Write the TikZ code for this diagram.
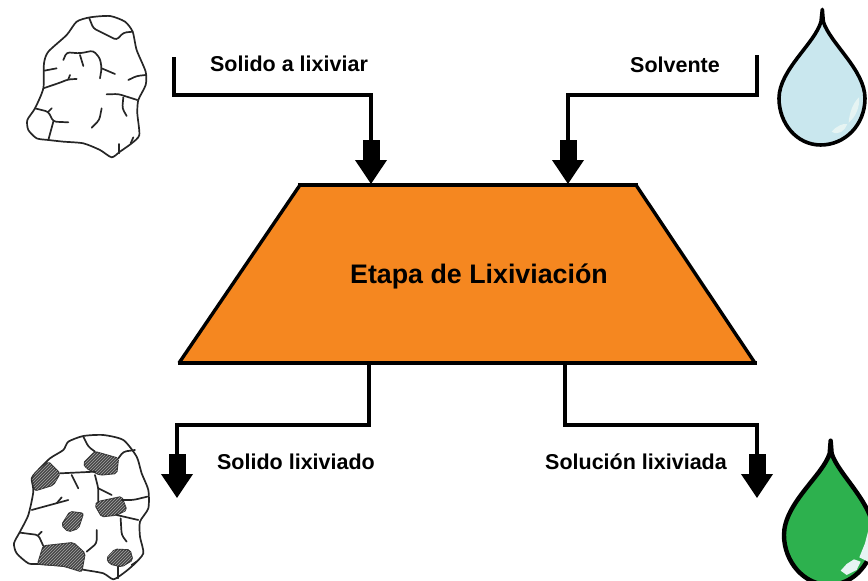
\documentclass[tikz,border=0pt]{standalone}
\usepackage{fontspec}
\setmainfont{Liberation Sans}
\usetikzlibrary{arrows.meta,patterns,calc}
\definecolor{stageorange}{HTML}{F58720}
\definecolor{waterblue}{HTML}{C9E7EE}
\definecolor{leachgreen}{HTML}{2DB14E}
\definecolor{glint}{HTML}{E6F4F3}
\tikzset{
  flow/.style={line width=4pt,-{Rectangle[length=20pt,width=17pt,sep=0pt]Triangle[length=24pt,width=31pt,sep=0pt]}},
  rockline/.style={line width=1.7pt,black!85,line cap=round,line join=round},
  crack/.style={rockline,rounded corners=3pt},
  ore/.style={fill=black!72,draw=black!80,line width=1.4pt,rounded corners=2pt,
    postaction={pattern=north east lines,pattern color=black!35}},
  droplet/.style={draw=black,line width=3.6pt,line join=round},
  shine/.style={fill=glint,draw=none},
  flowlabel/.style={font=\bfseries\fontsize{21.5}{24}\selectfont,inner sep=0pt,scale=1},
  stagelabel/.style={font=\bfseries\fontsize{26.8}{30}\selectfont,inner sep=0pt}
}
\begin{document}
\begin{tikzpicture}[x=1pt,y=-1pt]
\useasboundingbox (0,0) rectangle (868,581);
% leaching stage
\fill[stageorange] (300,185) -- (636,185) -- (755,363) -- (179,363) -- cycle;
\draw[line width=3.4pt,black] (636,185) -- (755,363) (179,363) -- (300,185);
\draw[line width=4pt,black] (298,185) -- (638,185) (178,363) -- (757,363);
\node[stagelabel] (stage) at (479,276) {Etapa de Lixiviación};
% streams
\coordinate (feedstart) at (174,57);
\coordinate (feedend) at (371,184);
\coordinate (solvstart) at (757,55);
\coordinate (solvend) at (568,184);
\coordinate (residstart) at (369,363);
\coordinate (residend) at (177,498);
\coordinate (leachstart) at (565,363);
\coordinate (leachend) at (757,498);
\draw[flow] (feedstart) |- (371,95) -- (feedend);
\draw[flow] (solvstart) |- (568,95) -- (solvend);
\draw[flow] (residstart) |- (177,425) -- (residend);
\draw[flow] (leachstart) |- (757,425) -- (leachend);
\node[flowlabel] (feedlabel) at (289,64) {Solido a lixiviar};
\node[flowlabel] (solvlabel) at (675,65) {Solvente};
\node[flowlabel] (residlabel) at (296,462) {Solido lixiviado};
\node[flowlabel] (leachlabel) at (636,462) {Solución lixiviada};
% fresh rock
\begin{scope}[x=.3333pt,y=-.3333pt]
\draw[rockline] plot[smooth cycle,tension=.4] coordinates {(270,52)(330,48)(375,65)(398,95)(410,150)(437,215)(437,255)(415,300)(412,340)(418,405)(395,430)(360,455)(335,472)(300,450)(250,430)(190,425)(145,420)(110,415)(85,390)(82,360)(105,325)(130,265)(132,190)(145,155)(200,105)(230,65)};
\draw[crack] (268,55)--(280,85)--(350,120)--(370,98)--(398,95);
\draw[crack] (190,180)--(200,157)--(240,160)--(280,152)--(300,175)--(305,205)--(300,235);
\draw[crack] (305,205)--(345,222);
\draw[crack] (240,165)--(250,198);
\draw[crack] (385,240)--(410,228)--(437,225);
\draw[crack] (320,283)--(355,282)--(412,300);
\draw[crack] (370,292)--(367,325)--(380,348);
\draw[crack] (130,265)--(180,248)--(205,238)--(230,237);
\draw[crack] (205,238)--(210,225);
\draw[crack] (133,212)--(170,205);
\draw[crack] (105,325)--(145,335)--(160,365)--(205,367);
\draw[crack] (145,335)--(155,325);
\draw[crack] (160,365)--(145,420);
\draw[crack] (305,325)--(298,360)--(275,383);
\draw[crack] (358,432)--(358,460);
\draw[crack] (392,430)--(400,412);
\end{scope}
% leached rock
\begin{scope}[shift={(0,420)},x=.3333pt,y=-.3333pt]
\draw[rockline] plot[smooth cycle,tension=.4] coordinates {(205,65)(250,48)(310,45)(370,60)(410,110)(425,160)(445,210)(445,265)(420,305)(420,350)(430,400)(400,435)(370,460)(340,478)(310,460)(255,450)(190,438)(115,432)(85,430)(50,400)(42,370)(60,335)(85,285)(100,215)(95,175)(110,155)(150,115)(190,90)};
\draw[ore] (285,95)--(355,115)--(350,160)--(300,165)--(260,145)--(250,130)--cycle;
\draw[ore] (145,125)--(180,160)--(160,195)--(105,212)--(95,175)--(110,155)--cycle;
\draw[ore] (295,245)--(365,230)--(380,270)--(350,285)--(305,290)--(285,255)--cycle;
\draw[ore] (210,275)--(250,280)--(235,325)--(205,335)--(185,315)--cycle;
\draw[ore] (130,378)--(220,368)--(255,400)--(245,455)--(190,438)--(113,432)--cycle;
\draw[ore] (345,388)--(390,390)--(398,420)--(365,440)--(330,432)--(320,415)--cycle;
\draw[crack] (250,50)--(265,80)--(285,95);
\draw[crack] (355,115)--(370,95)--(405,90);
\draw[crack] (180,160)--(285,155);
\draw[crack] (215,165)--(235,205);
\draw[crack] (285,165)--(295,205)--(295,245);
\draw[crack] (295,205)--(335,225);
\draw[crack] (365,240)--(400,240)--(442,230);
\draw[crack] (350,285)--(415,300);
\draw[crack] (362,295)--(365,345)--(380,365);
\draw[crack] (95,270)--(150,255)--(205,240);
\draw[crack] (170,250)--(185,232);
\draw[crack] (60,338)--(115,345)--(130,378);
\draw[crack] (115,345)--(125,335);
\draw[crack] (290,330)--(290,370)--(260,395);
\draw[crack] (355,440)--(355,475);
\draw[crack] (395,435)--(410,425);
\end{scope}
% solvent drop
\begin{scope}[shift={(730,0)},x=.3333pt,y=-.3333pt]
\draw[droplet,fill=waterblue] (277,28) -- (280,65) .. controls (300,130) and (405,210) .. (405,295) .. controls (405,375) and (345,435) .. (272,435) .. controls (200,435) and (147,370) .. (147,295) .. controls (147,210) and (255,130) .. (273,65) -- cycle;
\fill[shine] (387,292) .. controls (390,320) and (378,350) .. (356,368) .. controls (358,340) and (368,310) .. cycle;
\fill[shine] (305,395) .. controls (320,378) and (338,370) .. (352,372) .. controls (345,392) and (325,408) .. cycle;
\end{scope}
% leached solution drop
\begin{scope}[shift={(730,420)},x=.3333pt,y=-.3333pt]
\clip (0,0) rectangle (414,483);
\draw[droplet,line width=4.4pt,fill=leachgreen] (302,62) -- (305,100) .. controls (325,165) and (432,250) .. (432,345) .. controls (432,425) and (372,495) .. (297,495) .. controls (222,495) and (162,425) .. (162,345) .. controls (162,250) and (280,165) .. (299,100) -- cycle;
\fill[shine] (332,452) -- (350,432) -- (372,418) -- (392,425) -- (380,450) -- (350,465) -- cycle;
\fill[shine] (388,412) -- (405,370) -- (414,335) -- (414,425) -- cycle;
\end{scope}
\end{tikzpicture}
\end{document}
